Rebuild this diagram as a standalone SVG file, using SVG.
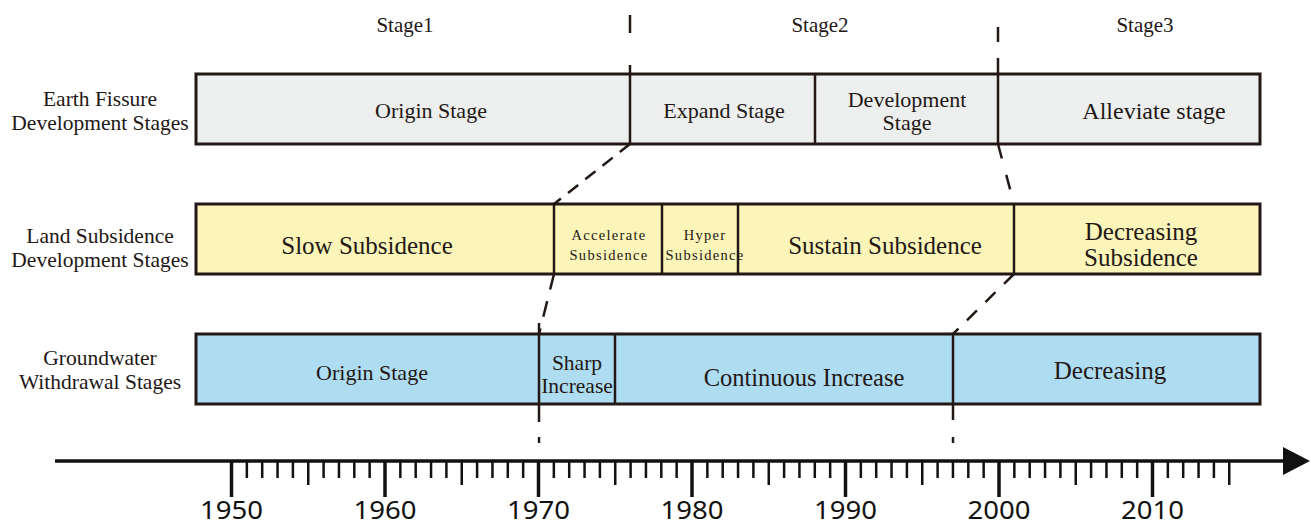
<svg xmlns="http://www.w3.org/2000/svg" width="1311" height="528" viewBox="0 0 1311 528">
<style>
  .box { stroke: #231815; stroke-width: 3; }
  .div { stroke: #231815; stroke-width: 2.5; fill: none; }
  .dash { stroke: #231815; stroke-width: 2.5; fill: none; stroke-dasharray: 13 9; }
  .t { font-family: "Liberation Serif", "Times New Roman", serif; fill: #231815; text-anchor: middle; }
  .lbl { font-size: 21.5px; }
  .st { font-size: 21px; }
  .s22 { font-size: 22px; }
  .s25 { font-size: 25px; }
  .small { font-size: 14.5px; letter-spacing: 1.3px; }
  .yr { font-family: "Noto Sans", "DejaVu Sans", sans-serif; font-size: 26px; fill: #111; text-anchor: middle; }
  .tk { stroke: #111; stroke-width: 2.5; }
  .tkM { stroke: #111; stroke-width: 3.5; }
</style>
<rect width="1311" height="528" fill="#ffffff"/>

<g id="stage-labels">
  <text class="t st" x="405" y="32">Stage1</text>
  <text class="t st" x="820" y="32">Stage2</text>
  <text class="t st" x="1145" y="32">Stage3</text>
</g>

<g id="row-labels">
  <text class="t lbl" x="100" y="106">Earth Fissure</text>
  <text class="t lbl" x="100" y="130">Development Stages</text>
  <text class="t lbl" x="100" y="243">Land Subsidence</text>
  <text class="t lbl" x="100" y="267">Development Stages</text>
  <text class="t lbl" x="100" y="365">Groundwater</text>
  <text class="t lbl" x="100" y="389">Withdrawal Stages</text>
</g>

<g id="earth-fissure">
  <rect class="box" x="196" y="74" width="1064" height="70" fill="#edeeee"/>
  <line class="div" x1="815" y1="74" x2="815" y2="144"/>
  <text class="t s22" x="431" y="118">Origin Stage</text>
  <text class="t s22" x="724" y="118">Expand Stage</text>
  <text class="t s22" x="907" y="107">Development</text>
  <text class="t s22" x="907" y="130">Stage</text>
  <text class="t" style="font-size:24px" x="1154" y="119">Alleviate stage</text>
</g>

<g id="land-subsidence">
  <rect class="box" x="196" y="204" width="1064" height="70" fill="#fbf5b9"/>
  <line class="div" x1="554" y1="204" x2="554" y2="274"/>
  <line class="div" x1="662" y1="204" x2="662" y2="274"/>
  <line class="div" x1="738" y1="204" x2="738" y2="274"/>
  <line class="div" x1="1014" y1="204" x2="1014" y2="274"/>
  <text class="t s25" x="367" y="254">Slow Subsidence</text>
  <text class="t small" x="609" y="240">Accelerate</text>
  <text class="t small" x="609" y="260">Subsidence</text>
  <text class="t small" x="705" y="240">Hyper</text>
  <text class="t small" x="705" y="260">Subsidence</text>
  <text class="t s25" x="885" y="254">Sustain Subsidence</text>
  <text class="t s25" x="1141" y="240">Decreasing</text>
  <text class="t s25" x="1141" y="266">Subsidence</text>
</g>

<g id="groundwater">
  <rect class="box" x="196" y="334" width="1064" height="70" fill="#aedcf1"/>
  <line class="div" x1="615" y1="334" x2="615" y2="404"/>
  <text class="t s22" x="372" y="380">Origin Stage</text>
  <text class="t" style="font-size:21.5px" x="577" y="370">Sharp</text>
  <text class="t" style="font-size:21.5px" x="577" y="393">Increase</text>
  <text class="t" style="font-size:24.5px" x="804" y="386">Continuous Increase</text>
  <text class="t s25" x="1110" y="379">Decreasing</text>
</g>

<g id="connectors">
  <line class="div" x1="630" y1="15" x2="630" y2="33"/>
  <line class="div" x1="630" y1="65" x2="630" y2="144"/>
  <line class="dash" x1="630" y1="144" x2="554" y2="204"/>
  <line class="dash" x1="554" y1="274" x2="539" y2="334" style="stroke-dasharray:16 12"/>
  <line class="div" x1="539" y1="323" x2="539" y2="422"/>
  <line class="div" x1="539" y1="437" x2="539" y2="443"/>
  <line class="div" x1="998" y1="27" x2="998" y2="42"/>
  <line class="div" x1="998" y1="58" x2="998" y2="144"/>
  <line class="dash" x1="998" y1="144" x2="1014" y2="204" style="stroke-dasharray:15 17"/>
  <line class="dash" x1="1014" y1="274" x2="953" y2="334" style="stroke-dasharray:14 12"/>
  <line class="div" x1="953" y1="334" x2="953" y2="420"/>
  <line class="div" x1="953" y1="437" x2="953" y2="443"/>
</g>

<g id="axis">
  <line x1="55" y1="461" x2="1285" y2="461" stroke="#111" stroke-width="3.5"/>
  <polygon points="1283,447 1310,461 1283,475" fill="#111"/>
  <g id="ticks">
    <line class="tkM" x1="231.5" y1="461" x2="231.5" y2="497"/>
    <line class="tk" x1="246.85" y1="461" x2="246.85" y2="478"/>
    <line class="tk" x1="262.2" y1="461" x2="262.2" y2="478"/>
    <line class="tk" x1="277.55" y1="461" x2="277.55" y2="478"/>
    <line class="tk" x1="292.9" y1="461" x2="292.9" y2="478"/>
    <line class="tk" x1="308.25" y1="461" x2="308.25" y2="485"/>
    <line class="tk" x1="323.6" y1="461" x2="323.6" y2="478"/>
    <line class="tk" x1="338.95" y1="461" x2="338.95" y2="478"/>
    <line class="tk" x1="354.3" y1="461" x2="354.3" y2="478"/>
    <line class="tk" x1="369.65" y1="461" x2="369.65" y2="478"/>
    <line class="tkM" x1="385" y1="461" x2="385" y2="497"/>
    <line class="tk" x1="400.35" y1="461" x2="400.35" y2="478"/>
    <line class="tk" x1="415.7" y1="461" x2="415.7" y2="478"/>
    <line class="tk" x1="431.05" y1="461" x2="431.05" y2="478"/>
    <line class="tk" x1="446.4" y1="461" x2="446.4" y2="478"/>
    <line class="tk" x1="461.75" y1="461" x2="461.75" y2="485"/>
    <line class="tk" x1="477.1" y1="461" x2="477.1" y2="478"/>
    <line class="tk" x1="492.45" y1="461" x2="492.45" y2="478"/>
    <line class="tk" x1="507.8" y1="461" x2="507.8" y2="478"/>
    <line class="tk" x1="523.15" y1="461" x2="523.15" y2="478"/>
    <line class="tkM" x1="538.5" y1="461" x2="538.5" y2="497"/>
    <line class="tk" x1="553.85" y1="461" x2="553.85" y2="478"/>
    <line class="tk" x1="569.2" y1="461" x2="569.2" y2="478"/>
    <line class="tk" x1="584.55" y1="461" x2="584.55" y2="478"/>
    <line class="tk" x1="599.9" y1="461" x2="599.9" y2="478"/>
    <line class="tk" x1="615.25" y1="461" x2="615.25" y2="485"/>
    <line class="tk" x1="630.6" y1="461" x2="630.6" y2="478"/>
    <line class="tk" x1="645.95" y1="461" x2="645.95" y2="478"/>
    <line class="tk" x1="661.3" y1="461" x2="661.3" y2="478"/>
    <line class="tk" x1="676.65" y1="461" x2="676.65" y2="478"/>
    <line class="tkM" x1="692" y1="461" x2="692" y2="497"/>
    <line class="tk" x1="707.35" y1="461" x2="707.35" y2="478"/>
    <line class="tk" x1="722.7" y1="461" x2="722.7" y2="478"/>
    <line class="tk" x1="738.05" y1="461" x2="738.05" y2="478"/>
    <line class="tk" x1="753.4" y1="461" x2="753.4" y2="478"/>
    <line class="tk" x1="768.75" y1="461" x2="768.75" y2="485"/>
    <line class="tk" x1="784.1" y1="461" x2="784.1" y2="478"/>
    <line class="tk" x1="799.45" y1="461" x2="799.45" y2="478"/>
    <line class="tk" x1="814.8" y1="461" x2="814.8" y2="478"/>
    <line class="tk" x1="830.15" y1="461" x2="830.15" y2="478"/>
    <line class="tkM" x1="845.5" y1="461" x2="845.5" y2="497"/>
    <line class="tk" x1="860.85" y1="461" x2="860.85" y2="478"/>
    <line class="tk" x1="876.2" y1="461" x2="876.2" y2="478"/>
    <line class="tk" x1="891.55" y1="461" x2="891.55" y2="478"/>
    <line class="tk" x1="906.9" y1="461" x2="906.9" y2="478"/>
    <line class="tk" x1="922.25" y1="461" x2="922.25" y2="485"/>
    <line class="tk" x1="937.6" y1="461" x2="937.6" y2="478"/>
    <line class="tk" x1="952.95" y1="461" x2="952.95" y2="478"/>
    <line class="tk" x1="968.3" y1="461" x2="968.3" y2="478"/>
    <line class="tk" x1="983.65" y1="461" x2="983.65" y2="478"/>
    <line class="tkM" x1="999" y1="461" x2="999" y2="497"/>
    <line class="tk" x1="1014.35" y1="461" x2="1014.35" y2="478"/>
    <line class="tk" x1="1029.7" y1="461" x2="1029.7" y2="478"/>
    <line class="tk" x1="1045.05" y1="461" x2="1045.05" y2="478"/>
    <line class="tk" x1="1060.4" y1="461" x2="1060.4" y2="478"/>
    <line class="tk" x1="1075.75" y1="461" x2="1075.75" y2="485"/>
    <line class="tk" x1="1091.1" y1="461" x2="1091.1" y2="478"/>
    <line class="tk" x1="1106.45" y1="461" x2="1106.45" y2="478"/>
    <line class="tk" x1="1121.8" y1="461" x2="1121.8" y2="478"/>
    <line class="tk" x1="1137.15" y1="461" x2="1137.15" y2="478"/>
    <line class="tkM" x1="1152.5" y1="461" x2="1152.5" y2="497"/>
    <line class="tk" x1="1167.85" y1="461" x2="1167.85" y2="478"/>
    <line class="tk" x1="1183.2" y1="461" x2="1183.2" y2="478"/>
    <line class="tk" x1="1198.55" y1="461" x2="1198.55" y2="478"/>
    <line class="tk" x1="1213.9" y1="461" x2="1213.9" y2="478"/>
    <line class="tk" x1="1229.25" y1="461" x2="1229.25" y2="485"/>
  </g>
  <g id="years">
    <text class="yr" x="231.5" y="519" textLength="63" lengthAdjust="spacingAndGlyphs">1950</text>
    <text class="yr" x="385" y="519" textLength="63" lengthAdjust="spacingAndGlyphs">1960</text>
    <text class="yr" x="538.5" y="519" textLength="63" lengthAdjust="spacingAndGlyphs">1970</text>
    <text class="yr" x="692" y="519" textLength="63" lengthAdjust="spacingAndGlyphs">1980</text>
    <text class="yr" x="845.5" y="519" textLength="63" lengthAdjust="spacingAndGlyphs">1990</text>
    <text class="yr" x="999" y="519" textLength="63" lengthAdjust="spacingAndGlyphs">2000</text>
    <text class="yr" x="1152.5" y="519" textLength="63" lengthAdjust="spacingAndGlyphs">2010</text>
  </g>
</g>
</svg>
